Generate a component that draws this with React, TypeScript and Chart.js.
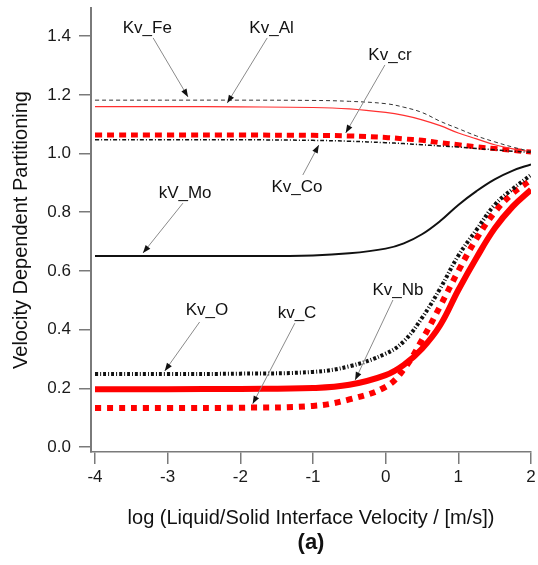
import React, { useEffect, useRef } from "react";
import { Chart, registerables } from "chart.js";
Chart.register(...registerables);

const FONT = "'Liberation Sans', Arial, Helvetica, sans-serif";

// log velocity positions
const xValues = [-4, -3, -2, -1, -0.5, 0, 0.25, 0.5, 0.75, 1, 1.25, 1.5, 1.75, 2];

const kvFe = [1.182, 1.182, 1.182, 1.181, 1.178, 1.17, 1.158, 1.14, 1.11, 1.085, 1.06, 1.04, 1.022, 1.007];
const kvAl = [1.16, 1.16, 1.159, 1.157, 1.152, 1.14, 1.13, 1.115, 1.095, 1.07, 1.05, 1.03, 1.016, 1.006];
const kvCr = [1.063, 1.063, 1.063, 1.062, 1.06, 1.055, 1.05, 1.045, 1.037, 1.03, 1.023, 1.017, 1.011, 1.005];
const kvCo = [1.047, 1.047, 1.047, 1.045, 1.042, 1.037, 1.034, 1.03, 1.026, 1.022, 1.017, 1.013, 1.008, 1.004];
const kvMo = [0.651, 0.651, 0.651, 0.653, 0.66, 0.676, 0.694, 0.725, 0.77, 0.825, 0.872, 0.912, 0.942, 0.963];
const kvO = [0.249, 0.249, 0.25, 0.256, 0.275, 0.318, 0.36, 0.44, 0.54, 0.652, 0.74, 0.825, 0.88, 0.927];
const kvNb = [0.197, 0.197, 0.198, 0.201, 0.212, 0.245, 0.28, 0.335, 0.415, 0.535, 0.645, 0.745, 0.82, 0.877];
const kvC = [0.133, 0.133, 0.134, 0.14, 0.162, 0.205, 0.265, 0.365, 0.48, 0.6, 0.71, 0.8, 0.865, 0.91];

const xTickValues = [-4, -3, -2, -1, 0, 1, 2];
const yTickValues = [0, 0.2, 0.4, 0.6, 0.8, 1.0, 1.2, 1.4];

// annotation labels: text position and arrow (from -> to) in data units
const annLabels = ["Kv_Fe", "Kv_Al", "Kv_cr", "Kv_Co", "kV_Mo", "Kv_O", "kv_C", "Kv_Nb"];
const annTextX = [-3.28, -1.57, 0.06, -1.22, -2.76, -2.46, -1.22, 0.17];
const annTextY = [1.428, 1.428, 1.336, 0.886, 0.865, 0.467, 0.457, 0.535];
const annFromX = [-3.2, -1.63, -0.01, -1.14, -2.79, -2.56, -1.25, 0.1];
const annFromY = [1.394, 1.394, 1.302, 0.927, 0.831, 0.426, 0.422, 0.501];
const annToX = [-2.72, -2.18, -0.55, -0.92, -3.34, -3.04, -1.83, -0.42];
const annToY = [1.193, 1.172, 1.07, 1.029, 0.661, 0.259, 0.147, 0.228];

const annotationPlugin = {
  id: "annotations",
  afterDatasetsDraw(chart: any) {
    const { ctx, scales, chartArea } = chart;
    const xs = scales.x;
    const ys = scales.y;
    ctx.save();
    for (let i = 0; i < annLabels.length; i++) {
      const x1 = xs.getPixelForValue(annFromX[i]);
      const y1 = ys.getPixelForValue(annFromY[i]);
      const x2 = xs.getPixelForValue(annToX[i]);
      const y2 = ys.getPixelForValue(annToY[i]);
      ctx.strokeStyle = "#8a8a8a";
      ctx.lineWidth = 1;
      ctx.setLineDash([]);
      ctx.beginPath();
      ctx.moveTo(x1, y1);
      ctx.lineTo(x2, y2);
      ctx.stroke();
      const ang = Math.atan2(y2 - y1, x2 - x1);
      const len = 8;
      const hw = 3;
      ctx.fillStyle = "#111";
      ctx.beginPath();
      ctx.moveTo(x2, y2);
      ctx.lineTo(x2 - len * Math.cos(ang) + hw * Math.sin(ang), y2 - len * Math.sin(ang) - hw * Math.cos(ang));
      ctx.lineTo(x2 - len * Math.cos(ang) - hw * Math.sin(ang), y2 - len * Math.sin(ang) + hw * Math.cos(ang));
      ctx.closePath();
      ctx.fill();
      ctx.font = `17px ${FONT}`;
      ctx.fillStyle = "#111";
      ctx.textAlign = "center";
      ctx.textBaseline = "middle";
      ctx.fillText(annLabels[i], xs.getPixelForValue(annTextX[i]), ys.getPixelForValue(annTextY[i]));
    }
    ctx.font = `bold 22px ${FONT}`;
    ctx.fillStyle = "#111";
    ctx.textAlign = "center";
    ctx.textBaseline = "middle";
    ctx.fillText("(a)", (chartArea.left + chartArea.right) / 2, chartArea.bottom + 91);
    ctx.restore();
  },
};

function series(label: string, values: number[], color: string, width: number, dash: number[]) {
  return {
    label,
    data: values.map((y, i) => ({ x: xValues[i], y })),
    borderColor: color,
    backgroundColor: color,
    borderWidth: width,
    borderDash: dash,
    borderCapStyle: "butt",
    pointRadius: 0,
    fill: false,
    tension: 0.4,
  };
}

export default function App() {
  const ref = useRef<HTMLCanvasElement>(null);
  useEffect(() => {
    if (!ref.current) return;
    const axisColor = "#7a7a7a";
    const chart = new Chart(ref.current, {
      type: "line",
      data: {
        datasets: [
          series("Kv_Co", kvCo, "#111", 1.5, [4, 2, 1, 2]),
          series("Kv_Fe", kvFe, "#333", 1, [4, 3]),
          series("Kv_Al", kvAl, "#ff3030", 1.2, []),
          series("Kv_cr", kvCr, "#ff0000", 5, [7, 5]),
          series("kV_Mo", kvMo, "#111", 2, []),
          series("Kv_O", kvO, "#111", 4, [3, 2, 1, 2]),
          series("kv_C", kvC, "#ff0000", 6, [6, 6]),
          series("Kv_Nb", kvNb, "#ff0000", 6, []),
        ] as any,
      },
      options: {
        responsive: false,
        animation: false,
        layout: { padding: { left: 0, right: 7, top: 8, bottom: 0 } },
        plugins: { legend: { display: false }, tooltip: { enabled: false }, title: { display: false } },
        scales: {
          x: {
            type: "linear",
            min: -4.055,
            max: 2,
            afterBuildTicks: (s: any) => {
              s.ticks = xTickValues.map((v) => ({ value: v }));
            },
            afterFit: (s: any) => {
              s.height = 113;
              s.paddingLeft = 0;
              s.paddingRight = 0;
            },
            border: { color: axisColor, width: 1.5 },
            grid: { drawOnChartArea: false, drawTicks: true, tickLength: 12, color: axisColor, lineWidth: 1.5 },
            ticks: {
              font: { family: FONT, size: 17 },
              color: "#1a1a1a",
              padding: 3,
              maxRotation: 0,
              autoSkip: false,
              callback: (v: any) => String(v),
            },
            title: {
              display: true,
              text: "log (Liquid/Solid Interface Velocity / [m/s])",
              font: { family: FONT, size: 20 },
              color: "#111",
              padding: { top: 0, bottom: 35 },
            },
          },
          y: {
            type: "linear",
            min: -0.017,
            max: 1.496,
            afterBuildTicks: (s: any) => {
              s.ticks = yTickValues.map((v) => ({ value: v }));
            },
            afterFit: (s: any) => {
              s.width = 91;
              s.paddingTop = 0;
              s.paddingBottom = 0;
            },
            border: { color: axisColor, width: 2 },
            grid: { drawOnChartArea: false, drawTicks: true, tickLength: 12, color: axisColor, lineWidth: 1.5 },
            ticks: {
              font: { family: FONT, size: 17 },
              color: "#1a1a1a",
              padding: 8,
              autoSkip: false,
              callback: (v: any) => Number(v).toFixed(1),
            },
            title: {
              display: true,
              text: "Velocity Dependent Partitioning",
              font: { family: FONT, size: 20 },
              color: "#111",
              padding: { top: 9, bottom: 0 },
            },
          },
        },
      },
      plugins: [annotationPlugin],
    });
    return () => chart.destroy();
  }, []);
  return (
    <div style={{ position: "absolute", left: 0, top: 0, width: 538, height: 565, background: "#fff" }}>
      <canvas ref={ref} width={538} height={565} style={{ display: "block", width: 538, height: 565 }} />
    </div>
  );
}
